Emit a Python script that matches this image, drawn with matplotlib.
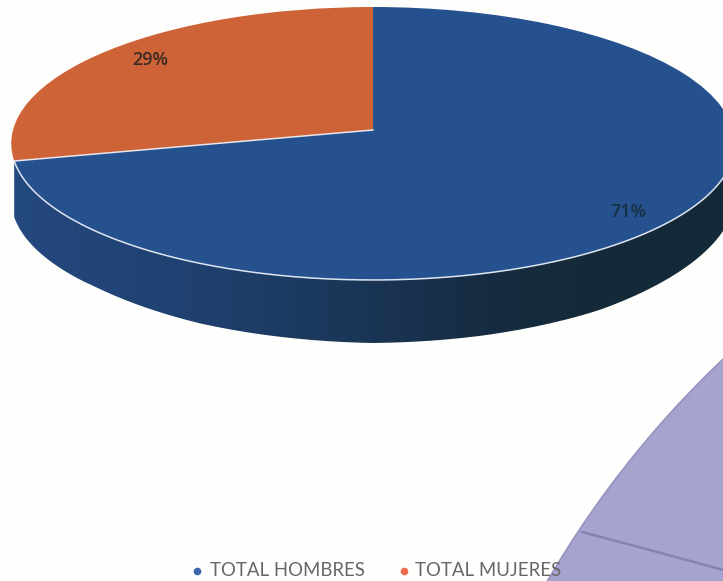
import numpy as np
import matplotlib
matplotlib.use("Agg")
import matplotlib.pyplot as plt
from matplotlib.patches import Circle, PathPatch
from matplotlib.path import Path
from matplotlib.transforms import Transform

categories = ["TOTAL HOMBRES", "TOTAL MUJERES"]
values = [71.4, 28.6]
pct_labels = ["71%", "29%"]
colors = ["#26518F", "#CE6338"]
legend_colors = ["#3A66AE", "#EE6A4A"]


class TiltTransform(Transform):
    """Perspective tilt of the unit circle into image pixels."""
    input_dims = 2
    output_dims = 2
    has_inverse = False

    def transform_non_affine(self, xy):
        xy = np.asarray(xy, dtype=float)
        w = 1 + 0.0989 * xy[:, 1]
        return np.column_stack([373 + 360 * xy[:, 0] / w,
                                (130 - 122.3 * xy[:, 1]) / w])


tilt = TiltTransform()

fig = plt.figure(figsize=(7.23, 5.81), dpi=100, facecolor="#FEFEFD")
ax = fig.add_axes([0, 0, 1, 1])

wedges, _ = ax.pie(values, colors=colors, startangle=90, counterclock=False,
                   wedgeprops=dict(edgecolor="none"))
ax.set_aspect("auto")
ax.axis("off")

for w in wedges:
    w.set_transform(tilt + ax.transData)
    w.set_zorder(3)

# side wall of the disc, under the blue front arc
theta1 = np.pi / 2 + 2 * np.pi * values[1] / sum(values)
arc = np.linspace(theta1, 2 * np.pi - 0.1, 200)
top_edge = tilt.transform(np.column_stack([np.cos(arc), np.sin(arc)]))
depth = np.interp(top_edge[:, 0], [13, 100, 200, 372, 480, 600, 723, 736],
                  [56, 56, 60, 63, 62, 60, 53, 46])
low_edge = top_edge + np.column_stack([np.zeros_like(depth), depth])
wall = Path(np.vstack([top_edge, low_edge[::-1], top_edge[:1]]))
wall_patch = PathPatch(wall, facecolor="none", edgecolor="none", transform=ax.transData)
ax.add_patch(wall_patch)
cmap = matplotlib.colors.LinearSegmentedColormap.from_list(
    "wall", [(0, "#24497F"), (0.26, "#1F406F"), (0.4, "#1C3A60"),
             (0.65, "#162C42"), (0.8, "#152A38"), (1, "#152A38")])
im = ax.imshow(np.linspace(0, 1, 256).reshape(1, -1), cmap=cmap, aspect="auto",
               extent=[10, 740, 350, 100], zorder=2)
im.set_clip_path(wall_patch)
ax.set_xlim(0, 723)
ax.set_ylim(581, 0)

# thin light rim along the front and the lower radial edge
ax.plot(top_edge[:, 0], top_edge[:, 1], color="#DDE4F0", linewidth=1.1, zorder=4)
ax.plot([373, top_edge[0, 0]], [130, top_edge[0, 1]], color="#E8E6EA", linewidth=1.1, zorder=4)

ax.text(150, 60, pct_labels[1], ha="center", va="center", fontsize=13,
        family="Open Sans", weight="semibold", color="#3A2A22", zorder=5)
ax.text(628, 212, pct_labels[0], ha="center", va="center", fontsize=13,
        family="Open Sans", weight="semibold", color="#16303F", zorder=5)

# corner of the next chart on the page
ax.add_patch(Circle((1406, 1080), 993, facecolor="#A6A3CE", edgecolor="#9693C0",
                    linewidth=1.2, zorder=6))
ax.plot([582, 650, 723], [532, 550, 570], color="#8583B4", linewidth=1.8, zorder=7)

# legend
for cat, col, mx, tx in zip(categories, legend_colors, [197, 404], [210, 415]):
    ax.plot([mx], [571], marker="o", ms=5.5, color=col, mec="none", zorder=8)
    ax.text(tx, 571, cat, ha="left", va="center", fontsize=13.4, family="Lato",
            color="#666666", zorder=8)

fig.savefig("out.png", dpi=100, facecolor=fig.get_facecolor())
